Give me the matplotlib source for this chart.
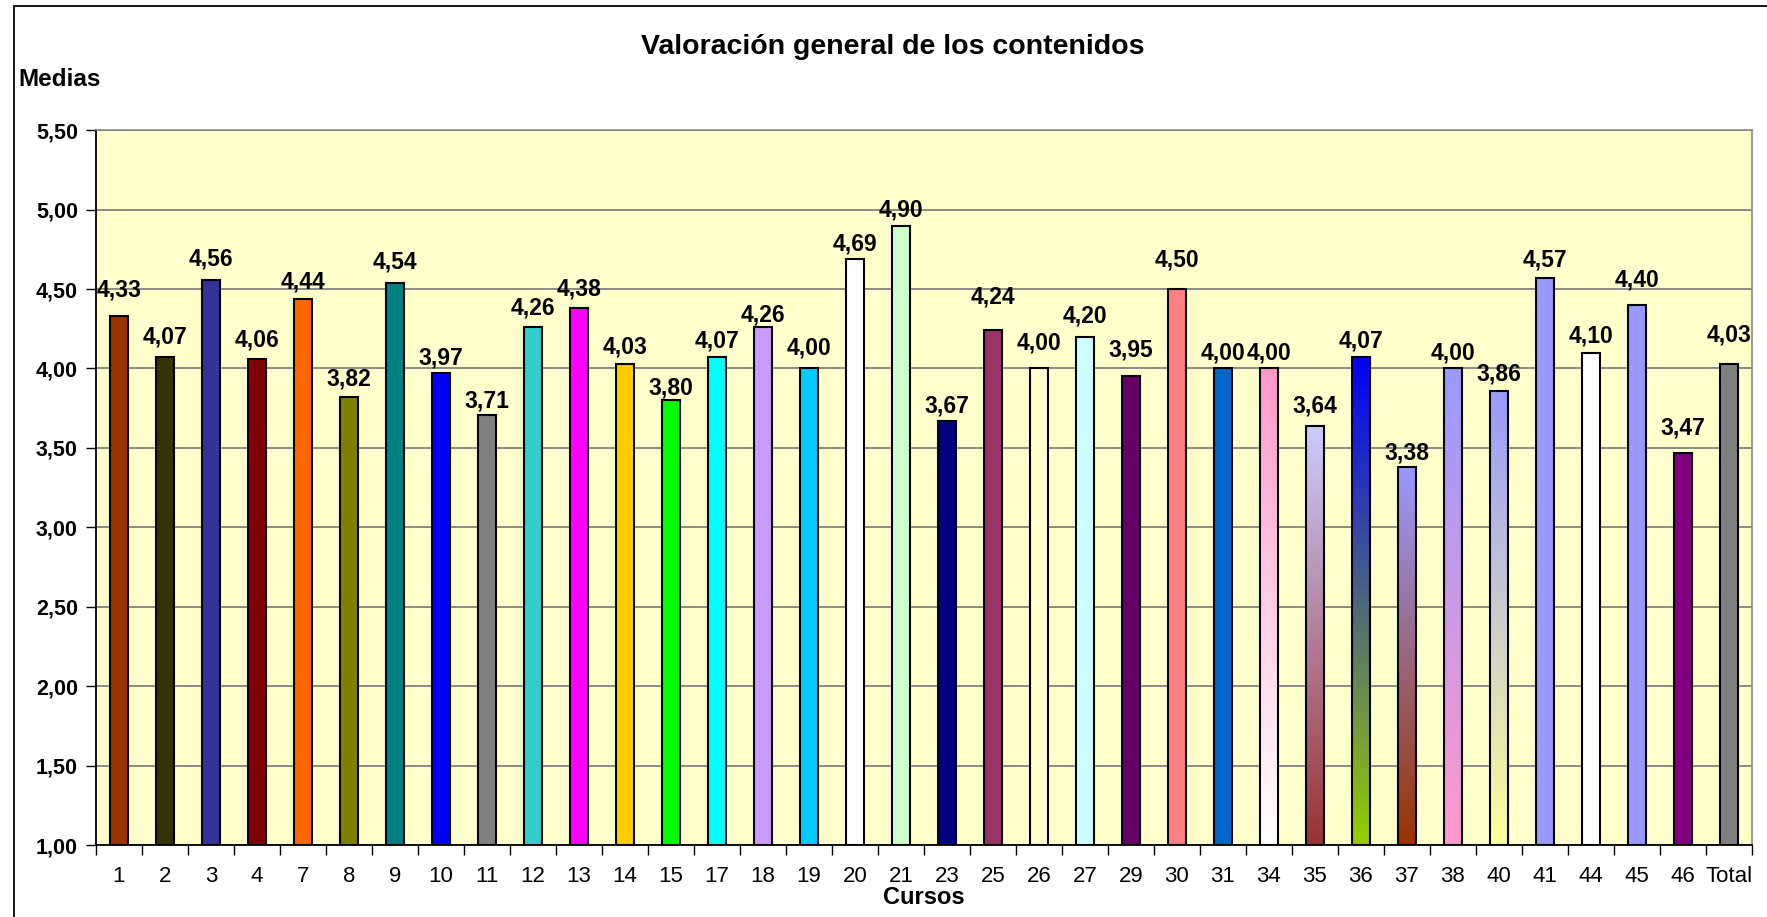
import matplotlib
matplotlib.use("Agg")
import matplotlib.pyplot as plt
import numpy as np
from matplotlib.colors import to_rgb
from matplotlib.patches import Rectangle

plt.rcParams["font.family"] = ["Liberation Sans", "DejaVu Sans"]

# data
cursos = ["1", "2", "3", "4", "7", "8", "9", "10", "11", "12", "13", "14", "15",
          "17", "18", "19", "20", "21", "23", "25", "26", "27", "29", "30", "31",
          "34", "35", "36", "37", "38", "40", "41", "44", "45", "46", "Total"]
medias = [4.33, 4.07, 4.56, 4.06, 4.44, 3.82, 4.54, 3.97, 3.71, 4.26, 4.38, 4.03,
          3.80, 4.07, 4.26, 4.00, 4.69, 4.90, 3.67, 4.24, 4.00, 4.20, 3.95, 4.50,
          4.00, 4.00, 3.64, 4.07, 3.38, 4.00, 3.86, 4.57, 4.10, 4.40, 3.47, 4.03]

# fill per bar: a single colour, or (bottom, top) for a vertical gradient
fills = ["#993300", "#333300", "#333399", "#800000", "#FF6600", "#808000",
         "#008080", "#0000FF", "#808080", "#33CCCC", "#FF00FF", "#FFCC00",
         "#00FF00", "#00FFFF", "#CC99FF", "#00CCFF", "#FFFFFF", "#CCFFCC",
         "#000080", "#993366", "#FFFFCC", "#CCFFFF", "#660066", "#FF8080",
         "#0066CC", ("#FFFFFF", "#FF99CC"), ("#993333", "#CCCCFF"),
         ("#99CC00", "#0000FF"), ("#993300", "#9999FF"), ("#FF99CC", "#9999FF"),
         ("#FFFF99", "#9999FF"), "#9999FF", "#FFFFFF", "#9999FF", "#800080",
         "#808080"]

# vertical gap (points) between bar top and its value label, as Excel placed them
label_gap = [19, 15, 15, 14, 12, 13, 15, 11, 10, 14, 14, 12, 9, 12, 9, 15, 11,
             11, 11, 24, 18, 15, 19, 21, 11, 11, 14, 12, 10, 11, 12, 13, 12, 18,
             18, 21]

YMIN, YMAX = 1.0, 5.5
W = 0.41

fig = plt.figure(figsize=(17.67, 9.17), dpi=100)
fig.patches.append(Rectangle((13.5 / 1767, -0.01), 1.1, 1 - 6 / 917 + 0.01,
                             transform=fig.transFigure, fill=False,
                             edgecolor="black", lw=1.3))
ax = fig.add_axes([0.0543, 0.0785, 0.9372, 0.7795])
ax.set_facecolor("#FFFFCC")

x = np.arange(len(cursos))
for xi, v, f in zip(x, medias, fills):
    if isinstance(f, tuple):
        c0, c1 = np.array(to_rgb(f[0])), np.array(to_rgb(f[1]))
        t = np.linspace(0, 1, 200)[:, None]
        img = (c0 + (c1 - c0) * t)[:, None, :]
        ax.imshow(img, extent=[xi - W / 2, xi + W / 2, YMIN, v], origin="lower",
                  aspect="auto", zorder=2, interpolation="bilinear")
        ax.bar(xi, v - YMIN, W, bottom=YMIN, facecolor="none",
               edgecolor="black", lw=1.5, zorder=3)
    else:
        ax.bar(xi, v - YMIN, W, bottom=YMIN, facecolor=f,
               edgecolor="black", lw=1.5, zorder=3)

for xi, v, g in zip(x, medias, label_gap):
    ax.annotate(f"{v:.2f}".replace(".", ","), (xi, v), xytext=(0, g),
                textcoords="offset points", ha="center", va="center",
                fontsize=16.5, fontweight="bold", zorder=4)

ax.set_xlim(-0.5, len(cursos) - 0.5)
ax.set_ylim(YMIN, YMAX)
yt = np.arange(1.0, 5.51, 0.5)
ax.set_yticks(yt)
ax.set_yticklabels([f"{t:.2f}".replace(".", ",") for t in yt],
                   fontsize=15.5, fontweight="bold")
ax.yaxis.grid(True, color="#777777", lw=1.2, zorder=1)
ax.set_axisbelow(True)

ax.set_xticks(np.arange(-0.5, len(cursos) + 0.5, 1.0))
ax.set_xticklabels([])
ax.set_xticks(x, minor=True)
ax.set_xticklabels(cursos, minor=True, fontsize=16)
ax.tick_params(axis="x", which="major", length=7, width=1, direction="out")
ax.tick_params(axis="x", which="minor", length=0, pad=15)
ax.tick_params(axis="y", length=7, width=1, direction="out", pad=6)

for s in ("top", "right"):
    ax.spines[s].set_color("#888888")
    ax.spines[s].set_linewidth(1.2)
for s in ("left", "bottom"):
    ax.spines[s].set_color("black")
    ax.spines[s].set_linewidth(1.3)

fig.text(893 / 1767, 1 - 47 / 917, "Valoración general de los contenidos",
         ha="center", va="center", fontsize=20.5, fontweight="bold")
fig.text(18 / 1767, 1 - 79 / 917, "Medias", ha="left", va="center",
         fontsize=17.5, fontweight="bold")
fig.text(924 / 1767, 1 - 898 / 917, "Cursos", ha="center",
         va="center", fontsize=17, fontweight="bold")

fig.savefig("out.png", dpi=100)
